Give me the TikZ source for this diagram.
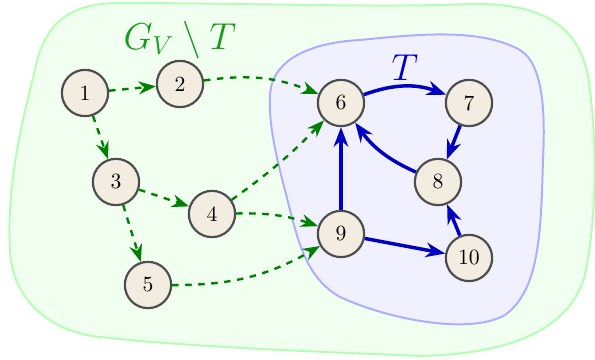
\documentclass[tikz,border=0pt]{standalone}
\usepackage{amsmath,amssymb}
\usepackage{xcolor}
\usepackage{tikz}
\usetikzlibrary{arrows.meta}
\definecolor{nodefill}{HTML}{F3ECE1}
\definecolor{nodeink}{HTML}{4D4D4D}
\definecolor{outgreen}{HTML}{008000}
\definecolor{labgreen}{HTML}{1A9A1A}
\definecolor{treeblue}{HTML}{0000C0}

\begin{document}
\begin{tikzpicture}[
  x=0.0162cm, y=0.0162cm,
  vert/.style={circle, draw=nodeink, fill=nodefill, line width=1pt, minimum size=0.75cm, inner sep=0pt},
  outarr/.style={-{Stealth[length=8pt]}, line width=1.1pt, dashed, color=outgreen},
  tarr/.style={-{Stealth[length=9pt]}, line width=1.6pt, color=treeblue}
]
  \useasboundingbox (0,0) rectangle (595,360);

  % Outer region G_V \ T
  \draw[green!30, fill=green!6, line width=0.9pt]
    (120,357) .. controls (250,357) and (380,352) .. (470,356)
    .. controls (560,358) and (585,320) .. (590,270)
    .. controls (596,220) and (598,150) .. (585,85)
    .. controls (570,30) and (510,6) .. (420,4)
    .. controls (330,8) and (200,12) .. (100,23)
    .. controls (50,28) and (12,60) .. (10,110)
    .. controls (6,180) and (25,250) .. (35,290)
    .. controls (45,345) and (80,357) .. cycle;
  % Inner region T
  \draw[blue!32, fill=blue!6, line width=0.9pt]
    (360,320) .. controls (420,326) and (480,332) .. (520,310)
    .. controls (545,295) and (545,240) .. (543,200)
    .. controls (541,130) and (540,70) .. (505,45)
    .. controls (470,25) and (390,40) .. (340,63)
    .. controls (310,80) and (300,110) .. (290,150)
    .. controls (280,190) and (268,230) .. (270,265)
    .. controls (272,305) and (320,318) .. cycle;

  % Region labels
  \node[font=\LARGE, text=labgreen] (lbl_out) at (180,320) {$G_V \setminus T$};
  \node[font=\LARGE, text=treeblue] (lbl_t) at (405,292) {$T$};

  % Vertices outside T
  \node[vert] (v1) at (85,267) {1};
  \node[vert] (v2) at (180,276) {2};
  \node[vert] (v3) at (116,178) {3};
  \node[vert] (v4) at (212,146) {4};
  \node[vert] (v5) at (148,75) {5};

  % Vertices of T
  \node[vert] (v6) at (341,257) {6};
  \node[vert] (v7) at (469,257) {7};
  \node[vert] (v8) at (438,178) {8};
  \node[vert] (v9) at (341,126) {9};
  \node[vert] (v10) at (469,102) {10};

  % Dashed edges
  \draw[outarr] (v1) -- (v2);
  \draw[outarr] (v1) -- (v3);
  \draw[outarr] (v3) -- (v4);
  \draw[outarr] (v3) -- (v5);
  \draw[outarr] (v2) to[bend left=15] (v6);
  \draw[outarr] (v4) to[bend right=5] (v6);
  \draw[outarr] (v4) to[bend left=10] (v9);
  \draw[outarr] (v5) to[bend right=15] (v9);

  % Edges in T
  \draw[tarr] (v6) to[bend left=20] (v7);
  \draw[tarr] (v7) -- (v8);
  \draw[tarr] (v8) to[bend left=15] (v6);
  \draw[tarr] (v9) -- (v6);
  \draw[tarr] (v9) -- (v10);
  \draw[tarr] (v10) -- (v8);
\end{tikzpicture}
\end{document}
